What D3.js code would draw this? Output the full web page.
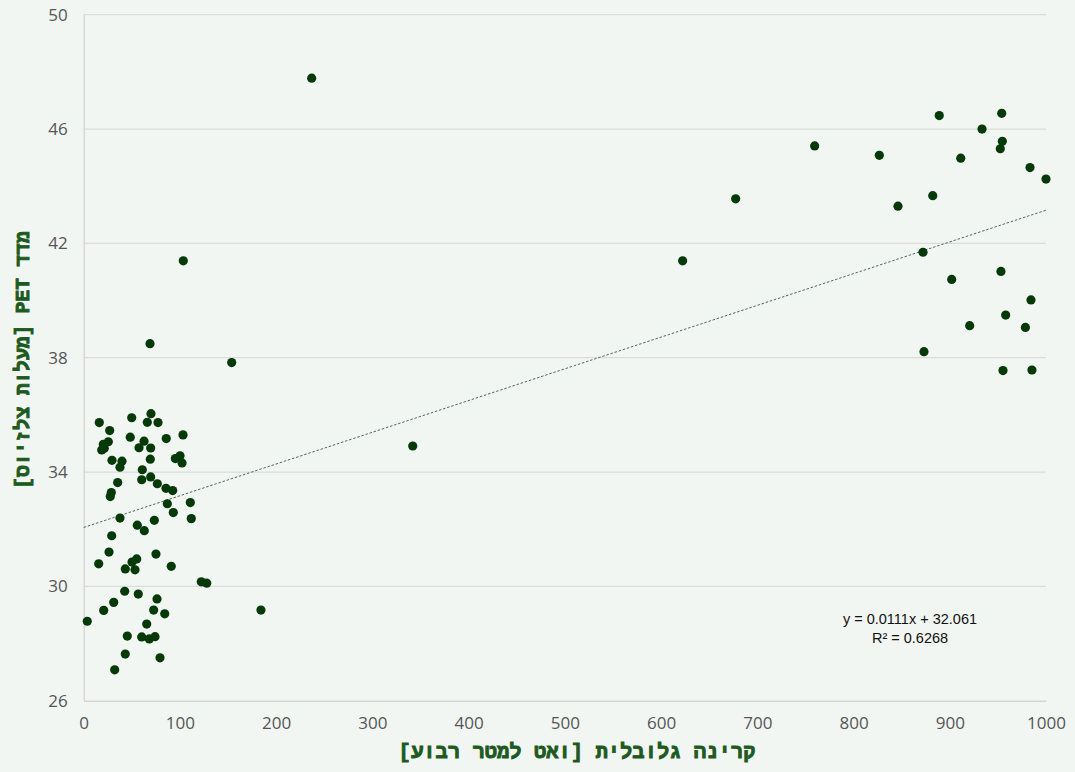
<!DOCTYPE html>
<html lang="he">
<head>
<meta charset="utf-8">
<script src="https://cdn.jsdelivr.net/npm/d3@7/dist/d3.min.js"></script>
<style>
  html, body { margin: 0; padding: 0; background: #f2f6f3; }
  svg { display: block; }
</style>
</head>
<body>
<svg id="chart" width="1075" height="772"></svg>
<script>
// Global radiation (W/m²) against PET index (°C) per measurement point
const radiation = [
  16.2, 49.9, 69.9, 66.1, 77.2, 27.0, 48.4, 25.6, 20.4, 18.7,
  21.4, 62.7, 57.5, 69.6, 85.8, 103.2, 29.4, 39.8, 37.7, 69.2,
  95.2, 100.1, 102.2, 60.9, 60.3, 69.6, 76.5, 35.3, 28.7, 27.6,
  85.5, 92.5, 86.9, 110.8, 93.1, 37.7, 73.4, 111.8, 55.7, 63.0,
  29.1, 26.3, 15.6, 50.2, 55.1, 43.2, 53.3, 75.1, 91.0, 122.2,
  127.8, 42.6, 56.7, 31.2, 20.8, 3.7, 76.2, 72.7, 84.2, 65.5,
  45.3, 60.3, 68.2, 74.1, 43.2, 79.3, 32.2,
  103.5, 68.9, 153.8, 236.9, 341.9, 184.2,
  622.4, 677.5, 759.6, 826.8, 846.2, 872.2, 882.3, 889.1, 911.4, 902.0,
  920.7, 873.2, 933.5, 954.0, 954.6, 952.5, 983.4, 1000.0, 953.2, 958.1,
  984.4, 978.6, 955.3, 985.4
];
const pet = [
  35.73, 35.90, 36.04, 35.74, 35.73, 35.45, 35.22, 35.06, 34.97, 34.77,
  34.83, 35.08, 34.85, 34.84, 35.17, 35.30, 34.41, 34.38, 34.17, 34.45,
  34.47, 34.57, 34.32, 34.08, 33.73, 33.83, 33.59, 33.63, 33.28, 33.14,
  33.43, 33.35, 32.89, 32.93, 32.58, 32.39, 32.31, 32.37, 32.14, 31.95,
  31.77, 31.20, 30.79, 30.85, 30.96, 30.61, 30.58, 31.13, 30.70, 30.16,
  30.11, 29.83, 29.73, 29.44, 29.16, 28.78, 29.56, 29.17, 29.04, 28.68,
  28.26, 28.23, 28.16, 28.24, 27.63, 27.50, 27.08,
  41.39, 38.49, 37.83, 47.78, 34.91, 29.17,
  41.39, 43.56, 45.41, 45.08, 43.30, 41.69, 43.67, 46.47, 44.98, 40.74,
  39.12, 38.21, 46.00, 46.55, 45.57, 45.31, 44.65, 44.25, 41.02, 39.49,
  40.02, 39.06, 37.55, 37.57
];

// Linear trend line coefficients and fit quality
const trendSlope = 0.0111;
const trendIntercept = 32.061;
const trendR2 = 0.6268;

const xTicks = [0, 100, 200, 300, 400, 500, 600, 700, 800, 900, 1000];
const yTicks = [26, 30, 34, 38, 42, 46, 50];

const xTitle = "קרינה גלובלית [ואט למטר רבוע]";
const yTitle = "מדד PET [מעלות צלזיוס]";

const svg = d3.select("#chart");
const margin = { left: 83.7, right: 1075 - 1046, top: 14.7, bottom: 772 - 700.7 };
const W = 1075, H = 772;

const x = d3.scaleLinear().domain([0, 1000]).range([margin.left, W - margin.right]);
const y = d3.scaleLinear().domain([26, 50]).range([H - margin.bottom, margin.top]);

// Horizontal gridlines
svg.append("g")
  .selectAll("line")
  .data(yTicks.filter(t => t !== 26))
  .join("line")
  .attr("x1", x(0)).attr("x2", x(1000))
  .attr("y1", d => y(d)).attr("y2", d => y(d))
  .attr("stroke", "#d9dcda").attr("stroke-width", 1.2);

// Axes
const xAxis = d3.axisBottom(x).tickValues(xTicks).tickFormat(d3.format("d")).tickSize(0).tickPadding(16);
const yAxis = d3.axisLeft(y).tickValues(yTicks).tickFormat(d3.format("d")).tickSize(0).tickPadding(16);

const gx = svg.append("g").attr("transform", `translate(0,${y(26)})`).call(xAxis);
const gy = svg.append("g").attr("transform", `translate(${x(0)},0)`).call(yAxis);

[gx, gy].forEach(g => {
  g.select(".domain").attr("stroke", "#d3d6d4").attr("stroke-width", 1.4);
  g.selectAll("text")
    .attr("fill", "#555555")
    .style("font-family", "'Open Sans', sans-serif")
    .style("font-size", "17px");
});
gx.selectAll("text").attr("dy", "0.71em");

// Trend line
svg.append("line")
  .attr("x1", x(0)).attr("y1", y(trendIntercept))
  .attr("x2", x(1000)).attr("y2", y(trendIntercept + trendSlope * 1000))
  .attr("stroke", "#4d6b50").attr("stroke-width", 1)
  .attr("stroke-dasharray", "2.5,1.8");

// Data points
svg.append("g")
  .selectAll("circle")
  .data(d3.zip(radiation, pet))
  .join("circle")
  .attr("cx", d => x(d[0]))
  .attr("cy", d => y(d[1]))
  .attr("r", 4.6)
  .attr("fill", "#053a08");

// Equation label
const eq = svg.append("g")
  .style("font-family", "'Liberation Sans', Arial, sans-serif")
  .style("font-size", "14.5px")
  .attr("fill", "#111");
eq.append("text")
  .attr("x", 910).attr("y", 624)
  .attr("text-anchor", "middle")
  .text(`y = ${trendSlope}x + ${trendIntercept}`);
eq.append("text")
  .attr("x", 910).attr("y", 643)
  .attr("text-anchor", "middle")
  .text(`R² = ${trendR2}`);

// Axis titles
const titleStyle = sel => sel
  .attr("text-anchor", "middle")
  .attr("direction", "rtl")
  .attr("fill", "#1d5a20")
  .attr("stroke", "#1d5a20")
  .attr("stroke-width", 0.9)
  .style("font-family", "'Liberation Mono', 'DejaVu Sans Mono', monospace")
  .style("font-weight", "bold");

svg.append("text")
  .attr("x", 577).attr("y", 758)
  .call(titleStyle)
  .style("font-size", "20.5px")
  .text(xTitle);

svg.append("text")
  .attr("transform", `translate(29,360) rotate(-90)`)
  .call(titleStyle)
  .style("font-size", "19.5px")
  .text(yTitle);
</script>
</body>
</html>
